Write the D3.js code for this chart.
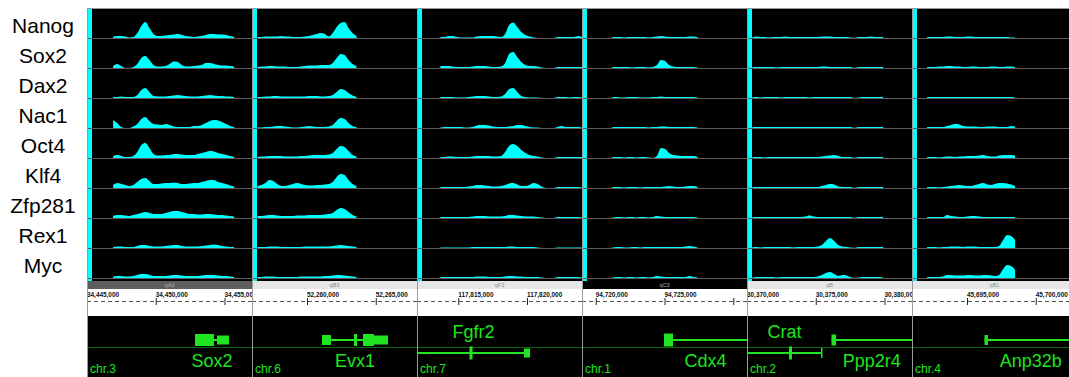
<!DOCTYPE html>
<html>
<head>
<meta charset="utf-8">
<script src="https://cdn.jsdelivr.net/npm/d3@7"></script>
<style>
  body { margin: 0; background: #fff; }
  svg { display: block; }
</style>
</head>
<body>
<svg id="chart"></svg>
<script>
const tracks = ['Nanog', 'Sox2', 'Dax2', 'Nac1', 'Oct4', 'Klf4', 'Zfp281', 'Rex1', 'Myc'];
const chroms = ['chr.3', 'chr.6', 'chr.7', 'chr.1', 'chr.2', 'chr.4'];
const bands = ['qA3', 'qB3', 'qF3', 'qC3', 'qB', 'qB1'];
const bandTone = ['mid', 'light', 'light', 'dark', 'light', 'light'];
const viewStart = [34445000, 52256000, 117812000, 94719000, 30370000, 45691000];
const signalStart = [34446900, 52256400, 117813700, 94721200, 30370400, 45692100];
const signalEnd = [34455700, 52263600, 117824000, 94727400, 30379900, 45698500];
const tickValues = [
  [34445000, 34450000, 34455000],
  [52260000, 52265000],
  [117815000, 117820000],
  [94720000, 94725000, 94730000],
  [30370000, 30375000, 30380000],
  [45695000, 45700000]
];
const tickLabels = [
  ['34,445,000', '34,450,000', '34,455,000'],
  ['52,260,000', '52,265,000'],
  ['117,815,000', '117,820,000'],
  ['94,720,000', '94,725,000', ''],
  ['30,370,000', '30,375,000', '30,380,000'],
  ['45,695,000', '45,700,000']
];

// signal heights, one list per locus (columns left to right)
const nanog = [
  [1.5,2,2,1.5,0.5,1,5,12,16,10,4,2,2,2.5,3,3.5,4,3,2,1.5,1,1.5,2,3,4,4,3.5,3.5,3,2,1],
  [1,1,1.5,1.5,1.5,1.5,2,1.5,1.5,1,1,1,1.5,2,3,4,5,4,1.5,5,11,15,16,10,5,2],
  [1,1,2,2,1,0.5,0.5,0.5,0.5,1.5,2,2,2,2,1.5,1,4,13,15.5,11,6,3,1.5,0.5,0,0,0,0,0,1,1,1,1,1,2,1],
  [1,1,1,0.5,1,1,1,1,1,0.5,1,1.5,2,1.5,1,1,1,1,1,1.5,1.5,1],
  [1,1.5,1,1,0.5,1,1,1,1.5,1,1,1,1,1,1,1,1,1.5,1.5,1.5,1,1,1,1,0.5,0,1,1,1,1.5,1,1,1],
  [1,1,1,1,1,1.5,1.5,1,1,1,1.5,1.5,1,1,1,1,1,1,1,1,1,0.5,0.5]
];
const sox2 = [
  [2,4,2,0,0,1,4,10,12,8,3,1.5,1.5,2,4,6.5,6,3,1.5,1.5,2,2.5,3,5,5,4,3,2.5,2.5,2,1.5],
  [1,1.5,1.5,2,2,1.5,1.5,1.5,1,1,1,1.5,2,2.5,2.5,2.5,3,3,3,5,10,14,13,8,4,2],
  [2,2,2,1.5,1,1,1,1,1.5,2,2,2,1.5,1,1,1.5,5,14,16,11,6,3,2,2,1.5,0.5,0,0,0,1,1,1,1,1,1,1],
  [1,1,1,1,1,0.5,1,1,1,0.5,1,3,8,7,3,1.5,1,1,1,1,1,0.5],
  [1,1,1,1,1,1,0.5,1,1,1,1,1,1,1,1,1,1,1.5,1.5,1,1,1,1,1,1,0,1,1,1,1,1,1,1],
  [1,1,1,1.5,1.5,2,2,1.5,1.5,1,1,1.5,1.5,1,1,1,1.5,1.5,1,1,1.5,1.5,1]
];
const dax2 = [
  [1,1,1.5,1,1,1,3,8,10,6,2,1.5,1.5,1.5,2,2.5,3,2.5,2,1.5,1.5,1.5,2,2.5,3,2.5,2,2,1.5,1.5,1],
  [1,1,1.5,1.5,2,2,1.5,1.5,1.5,1.5,1.5,1.5,1.5,2,2,2,1.5,1.5,2,3,6,9,8,5,2.5,1],
  [1,1,1,1,0.5,0.5,0.5,1,1.5,2,2,2,1.5,1,1,1.5,4,9,10,6,2,1,0.5,0.5,0.5,0,0,0,0,1,1,1,0.5,1,1,0.5],
  [1,1,0.5,0.5,1,1,1,0.5,0.5,0.5,1,1,1.5,1,1,1,1,1,1,1,1,0.5],
  [1,1,0.5,1,1,1,1,0.5,1,1,1,1,1,1,0.5,1,1,1,1,1,1,1,1,1,1,0,0.5,1,1,1,1,1,1],
  [1,1,1,1,1,1,1,1,1,1,1,1,1,1,1,1,1,1,1,1,1,1,0.5]
];
const nac1 = [
  [8,5,1,0,0,1.5,4,9,11,7,4,3.5,3,4,3,1.5,1,1,1,1,2,2,3,5,7,8,7.5,6,4,2,1],
  [0.5,0.5,1,1,1.5,2,2,1.5,1,0.5,0.5,1,1.5,2,1.5,1,1,1,1.5,3,7,10,9,5,2,1],
  [0.5,1,1,1,1,1,0.5,0.5,1,2.5,3,3,2.5,1.5,1,1,1,1.5,2,3,3,2,1,0.5,0.5,0,0,0,0,1,2,1,1,1,1,0.5],
  [1,1,1,1,1,1,1,1,1,0.5,1,1,1.5,1.5,1,1,1,1,1,1,1,0.5],
  [1,1,1,1,1,1,1,1,1,1,1,1,1,1,1,1,1,1,1,1,1,1,1,1,1,0,1,1,1,1,1,1,1],
  [1,1,1,1,1,2,3,4,3.5,2,1.5,1.5,1.5,1,1,1.5,1.5,1.5,1,1,1,2,1.5]
];
const oct4 = [
  [2,3,2,1,1,2,6,13,15,10,4,2.5,2.5,3,3,4,4,3.5,3,3,3,4,5,6,7,6.5,5,4,3,2,1],
  [1,1.5,1.5,2,2,2,2,1.5,1.5,1.5,1.5,2,2,2.5,3,3,3,3,3.5,5,9,12,11,7,3,1.5],
  [1,1,1.5,1.5,1,1,1,1,1.5,2,2,2,2,1.5,1.5,2,6,12,14,12,8,5,3,2,1.5,0.5,0,0,0,1,1,1,1,1,1,1],
  [1,1,1,0.5,1,1,0.5,1,1,0.5,0,2,10,9,5,3,2.5,2,2,2,2,1],
  [1,1,1,0.5,1,1,1,1,1,1,1,1,1,1,1,1,1,1.5,2,2.5,3,2,1,1,1,0,1,1,1,1,1,1,1],
  [1,1,1,0.5,1,1.5,1.5,1,1.5,1.5,2,2,2,2.5,3,2,1.5,1.5,2.5,3,3,3,2.5]
];
const klf4 = [
  [3,5,4,3,2,3,6,9,10,7,4,4,4.5,5,5,5.5,5,4,4,4.5,5,5,6,7,8,8,6,5,4,2.5,1.5],
  [2,3,5,8,7,4,2,2,3,4,5,4,3,2.5,2.5,3,3,3.5,4,6,11,14,13,8,4,2],
  [1,1,1,1,1,1,1,1.5,2,3,3,2.5,2,1.5,1.5,2,3,4.5,5,3.5,2,2,3,5,4,1.5,0,0,0,1,1,1,1,1,1,0.5],
  [1,1,1,0.5,1,1,1,0.5,1,1,1,1,1,1.5,2,1.5,1,1,1.5,2,2,1],
  [1,1,1,1,1,1,1,1,1,1,1,1,1,1,1,1,1,2,3,4,3.5,1.5,1,1,1,0,1,1,1,1,1,1,1],
  [1,1,1,0.5,1,1.5,2,2.5,3,2.5,2,2,3,4,5,3.5,3,4,5,5,4.5,3.5,2]
];
const zfp281 = [
  [2,3,3,2.5,2,3,4,5,6,5,4,4,4,5,6,7,7,6,5,4,4,3.5,3.5,4,4,3.5,3,3,2.5,2,1.5],
  [2,2,2.5,3,3,2.5,2,2,2,2,2.5,2.5,2.5,3,3,3,3,3.5,4,5,8,10,9,6,3,1.5],
  [1,1,1,1,1,1,1,1,1.5,2,2,2,1.5,1.5,1.5,1.5,2,3,3,2.5,2,1.5,1.5,1.5,1,0.5,0,0,0,1,1,1,1,1,1,0.5],
  [0.5,1,1,0.5,1,1,0.5,1,1,0.5,1,2,1.5,1,1,1,1,1,1,1,1,0.5],
  [1,1,1,1,1,1,1,1,1,1,1,1,1,1.5,2.5,1.5,1,1,1,1,1,1,1,1,1,0,1,1,1,1,1,1,1],
  [1,1,1,1,1,3,2,1.5,1,1,1.5,2,2,1.5,1,1,1,1,1,1,1,1,1]
];
const rex1 = [
  [1,1.5,1.5,1,1,1,2,3,3,2,1.5,1.5,1.5,2,2.5,3,3,2,1.5,1.5,1.5,1.5,2,2.5,3,3.5,3,2,1.5,1,1],
  [1,1,1,1.5,1.5,1.5,1,1,1,1,1,1,1.5,1.5,1.5,1.5,1.5,1.5,1.5,2,2.5,3,2.5,2,1.5,1],
  [0.5,0.5,0.5,0.5,0.5,0.5,0.5,0.5,1,1,1,1,1,1,1,1,1,1.5,1.5,1,1,1,1,1,0.5,0,0,0,0,0.5,0.5,0.5,0.5,0.5,0.5,0.5],
  [0.5,1,1,0.5,0.5,1,1,0.5,1,1,1,1,1,1,1,1,1,1,1.5,2,1.5,0.5],
  [1,1,0.5,1,1,1,1,1,1,1,0.5,1,1,1,1,1,1.5,3,7,10,7,3,1.5,1,0.5,0,1,1,1,1,1,1,1],
  [1,1,1,0.5,1,1,1.5,1.5,1.5,1,1.5,1.5,1.5,1,1,1,1,1,2,8,13,12,8]
];
const myc = [
  [1.5,2,2,1.5,1.5,2,3,4,4,3,2,2,2,2,2.5,3,3,2.5,2,2,2,2,2.5,3,3,3,2.5,2,2,1.5,1],
  [1,1,1.5,1.5,1.5,1,1,1,1,1,1,1.5,1.5,1.5,1.5,1.5,1.5,2,2,2.5,3,3,2.5,2,1.5,1],
  [1,1,1,1,1,1,1,1,1,1.5,1.5,1.5,1,1,1,1,1.5,2,2,1.5,1.5,1,1,1,1,0.5,0,0,0,1,1,1,1,1,1,0.5],
  [0.5,1,1,0.5,1,1,0.5,1,1,0.5,1,2,1.5,1,1,1,1,1,1,2,1,0.5],
  [0.5,1,1,1,1,1,0.5,1,1,1,1,1,1,1,1,1,1.5,3,5,6,4,2,3,2.5,1,0,0.5,1,1,1,1,1,0.5],
  [1,1,1,1,1.5,3,3,2.5,2.5,2.5,3,3,2.5,2.5,3,3,2.5,2,3,9,13,12,8]
];
const signals = [nanog, sox2, dax2, nac1, oct4, klf4, zfp281, rex1, myc];

// gene models: column, lane, transcript span and exons [start, end, height]
const geneNames = ['Sox2', 'Evx1', 'Fgfr2', 'Cdx4', 'Crat', 'Ppp2r4', 'Anp32b'];
const geneCol = [0, 1, 2, 3, 4, 4, 5];
const geneLane = ['up', 'up', 'down', 'up', 'down', 'up', 'up'];
const geneSpan = [
  [34452855, 34455327], [52261091, 52265891], [117800000, 117820218],
  [94724964, 94740000], [30360000, 30375455], [30376145, 30390000], [45696273, 45710000]
];
const geneExons = [
  [[34452855, 34454236, 12], [34454455, 34455327, 9]],
  [[52261091, 52261745, 10], [52263418, 52263636, 12], [52264073, 52264873, 12], [52264873, 52265891, 9]],
  [[117815818, 117816036, 13], [117819782, 117820218, 9]],
  [[94724964, 94725618, 13]],
  [[30373055, 30373273, 13], [30375382, 30375491, 10]],
  [[30376145, 30376473, 11]],
  [[45696273, 45696527, 10]]
];

const width = 1069;
const height = 377;
const panelLeft = 87;
const colW = 165;
const panelTop = 8;
const rowH = 30;
const bpSpan = 12000;
const green = '#1fe41f';

const svg = d3.select('#chart')
  .attr('width', width)
  .attr('height', height);

svg.selectAll('text.track')
  .data(tracks)
  .enter().append('text')
    .attr('class', 'track')
    .attr('x', 43)
    .attr('y', (d, i) => panelTop + i * rowH + 25)
    .attr('text-anchor', 'middle')
    .attr('font-family', 'Liberation Sans, Arial, sans-serif')
    .attr('font-size', '21px')
    .attr('fill', '#000')
    .text(d => d);

const hScale = d3.scaleLinear().domain([0, 20]).range([0, 20]);

chroms.forEach((chr, c) => {
  const x0 = panelLeft + c * colW;
  const x = d3.scaleLinear()
    .domain([viewStart[c], viewStart[c] + bpSpan])
    .range([x0, x0 + colW]);

  svg.append('clipPath').attr('id', 'clip' + c)
    .append('rect')
      .attr('x', x0).attr('y', 0)
      .attr('width', colW).attr('height', height);

  const g = svg.append('g').attr('clip-path', `url(#clip${c})`);

  // signal panel
  g.append('rect')
    .attr('x', x0).attr('y', panelTop)
    .attr('width', colW).attr('height', rowH * tracks.length + 3)
    .attr('fill', '#000');
  g.append('rect')
    .attr('x', x0 + 1).attr('y', panelTop)
    .attr('width', 4).attr('height', rowH * tracks.length + 3)
    .attr('fill', '#00ffff');

  tracks.forEach((t, r) => {
    const base = panelTop + (r + 1) * rowH;
    const vals = signals[r][c];
    const step = (signalEnd[c] - signalStart[c]) / (vals.length - 1);
    const pts = vals.map((v, k) => ({ pos: signalStart[c] + k * step, v: v }));

    g.append('line')
      .attr('x1', x0).attr('x2', x0 + colW)
      .attr('y1', base + 0.5).attr('y2', base + 0.5)
      .attr('stroke', '#5c5c5c');

    const area = d3.area()
      .x(d => x(d.pos))
      .y0(base)
      .y1(d => base - hScale(d.v))
      .curve(d3.curveMonotoneX);

    g.append('path')
      .datum(pts)
      .attr('d', area)
      .attr('fill', '#00ffff');
  });

  g.append('line')
    .attr('x1', x0).attr('x2', x0 + colW)
    .attr('y1', panelTop + 0.5).attr('y2', panelTop + 0.5)
    .attr('stroke', '#9a9a9a');

  // ideogram band
  const tone = bandTone[c];
  g.append('rect')
    .attr('x', x0).attr('y', 281)
    .attr('width', colW).attr('height', 8)
    .attr('fill', tone === 'dark' ? '#000' : tone === 'mid' ? '#5e5e5e' : '#e6e6e6');
  g.append('text')
    .attr('x', x0 + colW / 2).attr('y', 287.3)
    .attr('text-anchor', 'middle')
    .attr('font-family', 'Liberation Sans, Arial, sans-serif')
    .attr('font-size', '5.5px')
    .attr('fill', tone === 'light' ? '#8c8c8c' : '#b0b0b0')
    .text(bands[c]);

  // ruler
  g.append('line')
    .attr('x1', x0).attr('x2', x0 + colW)
    .attr('y1', 301.5).attr('y2', 301.5)
    .attr('stroke', '#555')
    .attr('stroke-dasharray', '4,3');

  tickValues[c].forEach((tv, k) => {
    g.append('line')
      .attr('x1', x(tv) + 0.5).attr('x2', x(tv) + 0.5)
      .attr('y1', 298).attr('y2', 305)
      .attr('stroke', '#222');
    g.append('text')
      .attr('x', x(tv)).attr('y', 297)
      .attr('font-family', 'Liberation Sans, Arial, sans-serif')
      .attr('font-size', '6.4px')
      .attr('font-weight', 'bold')
      .attr('fill', '#111')
      .text(tickLabels[c][k]);
  });

  // gene panel
  g.append('rect')
    .attr('x', x0).attr('y', 316)
    .attr('width', colW).attr('height', height - 316)
    .attr('fill', '#000');
  g.append('line')
    .attr('x1', x0).attr('x2', x0 + colW)
    .attr('y1', 347.5).attr('y2', 347.5)
    .attr('stroke', '#0a6a0a');

  geneNames.forEach((name, gi) => {
    if (geneCol[gi] !== c) return;
    const cy = geneLane[gi] === 'up' ? 340 : 353;
    g.append('line')
      .attr('x1', x(geneSpan[gi][0])).attr('x2', x(geneSpan[gi][1]))
      .attr('y1', cy).attr('y2', cy)
      .attr('stroke', green)
      .attr('stroke-width', 2);
    g.selectAll(null)
      .data(geneExons[gi])
      .enter().append('rect')
        .attr('x', d => x(d[0]))
        .attr('y', d => cy - d[2] / 2)
        .attr('width', d => Math.max(1.5, x(d[1]) - x(d[0])))
        .attr('height', d => d[2])
        .attr('fill', green);
    const vis0 = Math.max(x0, x(geneSpan[gi][0]));
    const vis1 = Math.min(x0 + colW, x(geneSpan[gi][1]));
    g.append('text')
      .attr('x', (vis0 + vis1) / 2)
      .attr('y', geneLane[gi] === 'up' ? 367 : 338)
      .attr('text-anchor', 'middle')
      .attr('font-family', 'Liberation Sans, Arial, sans-serif')
      .attr('font-size', '18px')
      .attr('fill', green)
      .text(name);
  });

  g.append('text')
    .attr('x', x0 + 3).attr('y', 373)
    .attr('font-family', 'Liberation Sans, Arial, sans-serif')
    .attr('font-size', '12px')
    .attr('fill', green)
    .text(chr);

  // column border
  svg.append('line')
    .attr('x1', x0 + 0.5).attr('x2', x0 + 0.5)
    .attr('y1', panelTop).attr('y2', height)
    .attr('stroke', '#9a9a9a');
});
</script>
</body>
</html>
